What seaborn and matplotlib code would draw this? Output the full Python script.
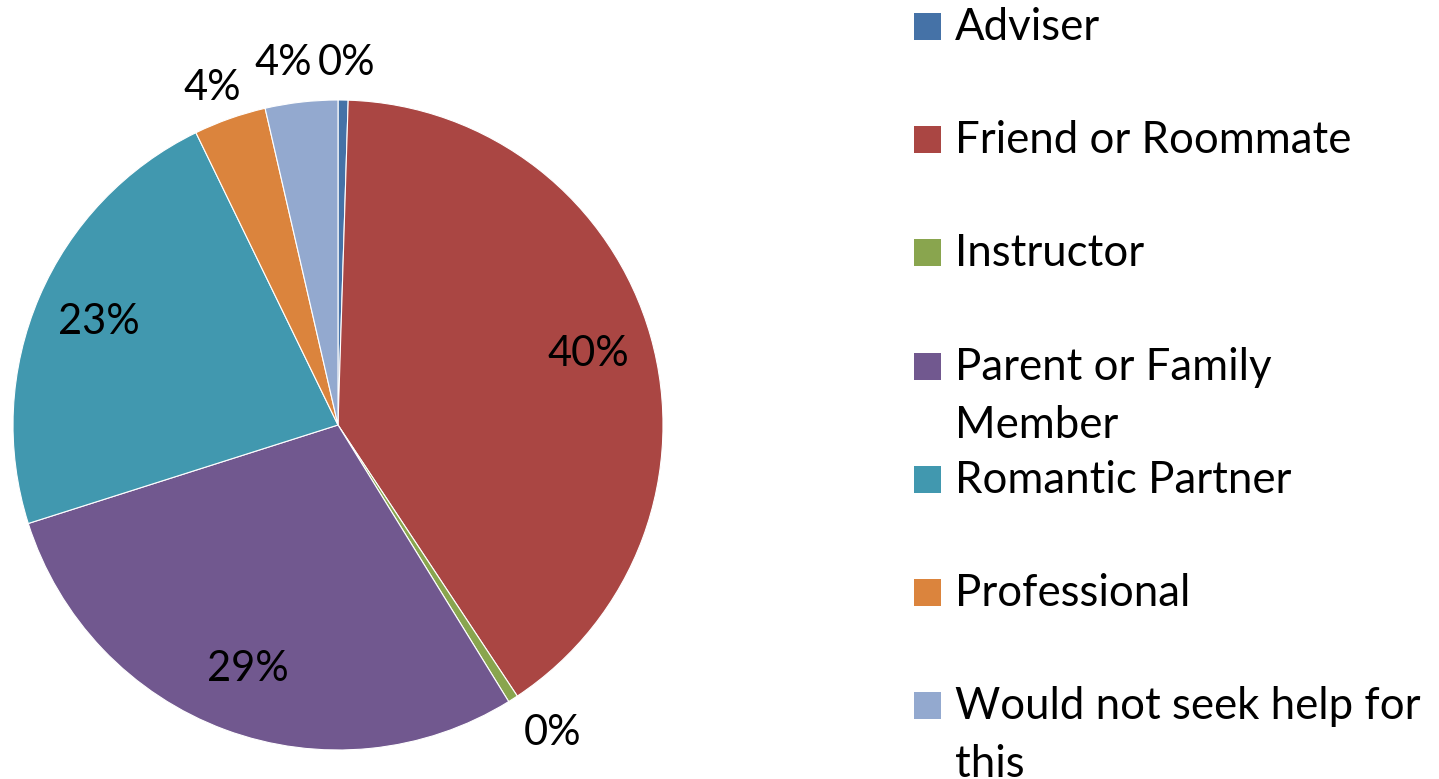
import matplotlib
matplotlib.use("Agg")
import matplotlib.pyplot as plt
import seaborn as sns
from matplotlib.patches import Rectangle
import numpy as np

categories = ["Adviser", "Friend or Roommate", "Instructor", "Parent or Family\nMember",
              "Romantic Partner", "Professional", "Would not seek help for\nthis"]
values = [0.5, 40.2, 0.5, 28.9, 22.7, 3.6, 3.6]
colors = ["#4572A7", "#AA4643", "#89A54E", "#71588F", "#4198AF", "#DB843D", "#93A9CF"]

sns.set_theme(style="white")
plt.rcParams['font.family'] = ['Lato', 'DejaVu Sans']

W, H = 1439, 779
fig = plt.figure(figsize=(W / 100, H / 100), dpi=100)
ax = fig.add_axes([13 / W, 29 / H, 650 / W, 650 / H])

pal = sns.color_palette(colors)
wedges, texts, autotexts = ax.pie(
    values, colors=pal, startangle=90, counterclock=False, radius=1.0,
    autopct=lambda p: f"{p:.0f}%", pctdistance=0.8,
    wedgeprops=dict(edgecolor="white", linewidth=0.8),
    textprops=dict(fontsize=30, color="black"))
ax.set_xlim(-1, 1)
ax.set_ylim(-1, 1)
ax.set_aspect("equal")

# small slices get labels outside the pie: (radial distance, angular shift in degrees)
outer = [(1.114, -0.5), None, (1.155, 2.2), None, None, (1.106, 1.0), (1.127, 2.1)]
for w, t, o in zip(wedges, autotexts, outer):
    if o is None:
        continue
    r, dth = o
    ang = np.deg2rad((w.theta1 + w.theta2) / 2 + dth)
    t.set_position((r * np.cos(ang), r * np.sin(ang)))
    t.set_clip_on(False)
for t in autotexts:
    t.set_ha("center")
    t.set_va("center")

# legend drawn on the right
sq = 27
x_sq = 914
first_c = 26.5
step = 113.2
line_gap = 58
for i, (lab, col) in enumerate(zip(categories, colors)):
    cy = first_c + i * step
    fig.patches.append(Rectangle((x_sq / W, 1 - (cy + sq / 2) / H), sq / W, sq / H,
                                 transform=fig.transFigure, facecolor=col, edgecolor="none"))
    for k, line in enumerate(lab.split("\n")):
        base = cy + sq / 2 + k * line_gap
        fig.text(955 / W, 1 - base / H, line, fontsize=31.5, ha="left", va="baseline", color="black")

fig.savefig("out.png", dpi=100)
